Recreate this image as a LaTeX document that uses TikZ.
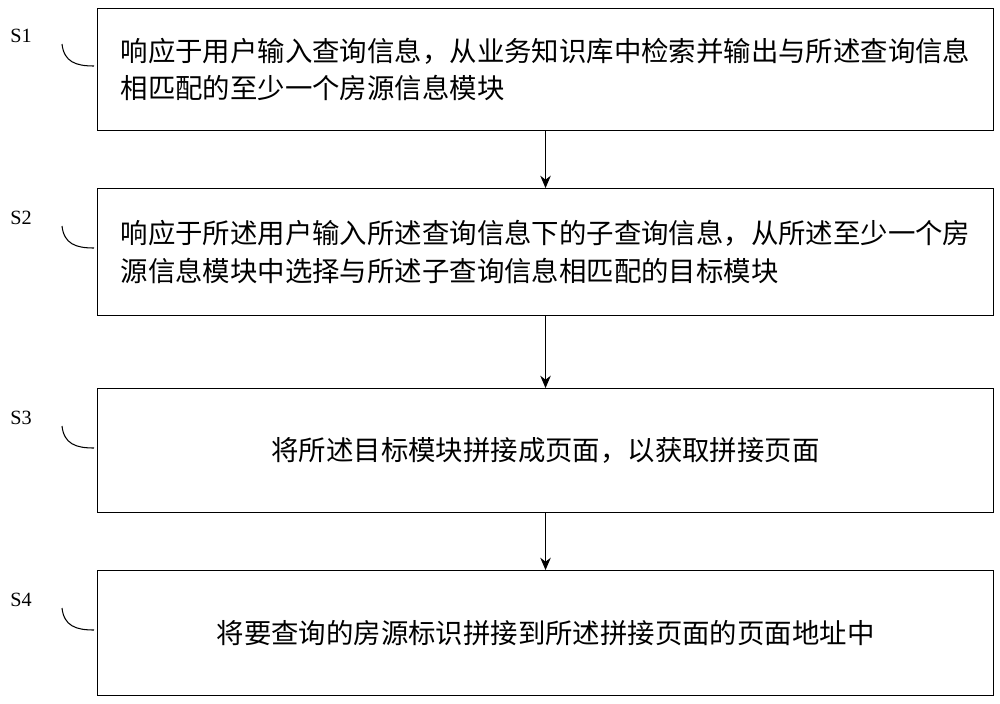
\documentclass[tikz,border=0pt]{standalone}
\usepackage{fontspec}
\setmainfont{Liberation Serif}
\newfontfamily\cjk{Noto Sans CJK SC}
\usetikzlibrary{arrows.meta}
\begin{document}
\begin{tikzpicture}[x=0.02cm,y=-0.02cm,
  stepbox/.style={draw,line width=0.6pt,minimum width=896*0.02cm,anchor=north west,inner sep=0pt,font=\cjk\fontsize{15.6}{21.5}\selectfont,align=left},
  lab/.style={font=\fontsize{11.5}{13}\selectfont},
  arr/.style={-{Stealth[length=7pt,width=6pt]},line width=0.6pt},
  hook/.style={line width=0.6pt}]
\useasboundingbox (0,0) rectangle (1000,703);
\node[stepbox,minimum height=122*0.02cm] (b1) at (97,8) {响应于用户输入查询信息，从业务知识库中检索并输出与所述查询信息\\相匹配的至少一个房源信息模块};
\node[stepbox,minimum height=127*0.02cm] (b2) at (97,188) {响应于所述用户输入所述查询信息下的子查询信息，从所述至少一个房\\源信息模块中选择与所述子查询信息相匹配的目标模块};
\node[stepbox,minimum height=124*0.02cm,align=center] (b3) at (97,388) {将所述目标模块拼接成页面，以获取拼接页面};
\node[stepbox,minimum height=125*0.02cm,align=center] (b4) at (97,570) {将要查询的房源标识拼接到所述拼接页面的页面地址中};
\draw[arr] (b1.south) -- (b2.north);
\draw[arr] (b2.south) -- (b3.north);
\draw[arr] (b3.south) -- (b4.north);
\foreach \n/\t/\y in {l1/S1/36,l2/S2/218,l3/S3/418,l4/S4/600}{
  \node[lab] (\n) at (21,\y) {\t};
  \coordinate (\n a) at (62,\y+8);
  \coordinate (\n b) at (94,\y+30);
  \draw[hook] (\n a) .. controls (64,\y+26) and (76,\y+30) .. (\n b);
}
\end{tikzpicture}
\end{document}
